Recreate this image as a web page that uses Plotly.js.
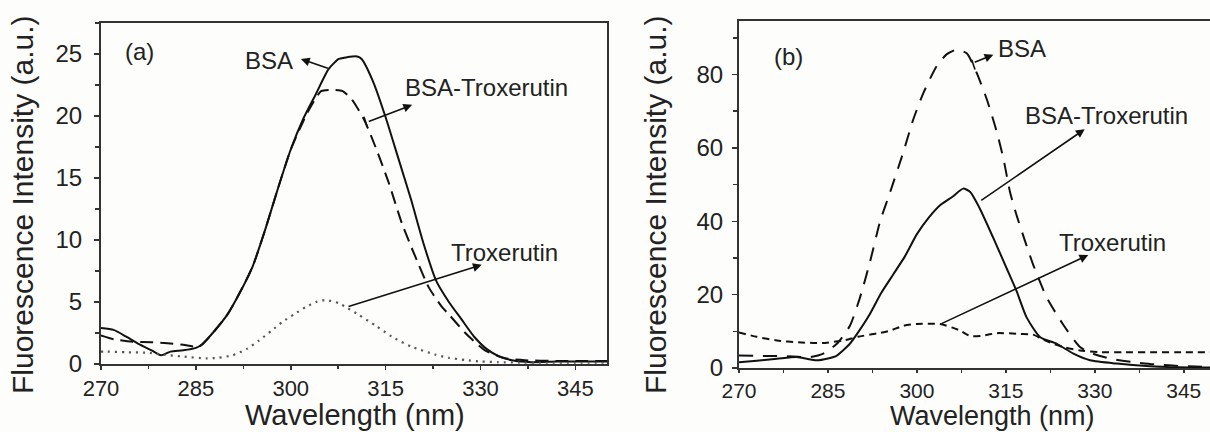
<!DOCTYPE html>
<html>
<head>
<meta charset="utf-8">
<script src="https://cdn.plot.ly/plotly-3.0.1.min.js"></script>
<style>
html,body{margin:0;padding:0;overflow:hidden;background:#fdfdfb;}
#chart{width:1216px;height:432px;}
</style>
</head>
<body>
<div id="chart"></div>
<script>
// ---------- Panel (a) ----------
const aBsaX = [270,272,274,276,278,279.5,281,283,285,286,288,290,292,294,296,298,300,302,304,306,307.6,309,310.5,311.2,313,315,317,319,321,323,325,327,329,331,333,335,338,342,346,350];
const aBsaY = [2.9,2.75,2.2,1.6,1.1,0.7,1.0,1.1,1.3,1.6,2.7,4.0,5.8,7.9,10.9,14.2,17.3,19.8,21.8,23.8,24.6,24.75,24.8,24.6,22.8,19.9,16.6,13.3,9.7,6.7,5.0,3.6,2.2,1.2,0.6,0.3,0.15,0.2,0.2,0.2];

const aMixX = [270,272,275,278,280,283,285.5,288,290,292,294,296,298,300,302,303,304.8,306.6,308.2,309.7,311.6,313.4,315.5,317.6,319.7,321.8,323.9,325,327.6,330.7,333.9,337,342,346,350];
const aMixY = [2.3,2.0,1.8,1.75,1.7,1.55,1.4,2.7,4.0,5.8,7.9,10.9,14.2,17.3,19.6,20.6,22.0,22.1,22.0,21.3,19.7,17.5,14.6,11.3,8.65,6.2,4.6,4.0,2.5,1.1,0.46,0.3,0.25,0.25,0.25];

const aTroX = [270,271,274,277.7,280,283,286.7,288.5,290.8,293,295,297,298.7,300.5,302.4,304,305.5,307.6,309,310.8,313.4,316,319.1,322.9,325,327.6,330,332.8,336,340,345,350];
const aTroY = [1.0,1.0,0.95,0.9,0.75,0.6,0.45,0.5,0.7,1.2,1.9,2.7,3.4,4.0,4.6,5.0,5.16,4.9,4.5,3.95,3.1,2.2,1.4,0.75,0.5,0.32,0.2,0.15,0.12,0.1,0.1,0.1];

// ---------- Panel (b) ----------
const bBsaX = [270,274,278,282,284.2,286.5,288.7,290.4,292.1,293.8,295.5,297.7,299.4,301.1,303.3,305,306.7,308.4,310.1,311.8,313.5,314.6,315.7,316.8,319.6,321.9,324.6,327.5,329.7,333,336.4,340,345,350];
const bBsaY = [3.4,3.3,3.2,3.0,3.9,6.6,11.5,19.2,29,40,48,58.8,67.8,75,82.2,85.5,86.8,85.8,80.4,73.2,64.2,57,48,41.7,28.2,19.2,12,5.7,3.9,2.4,1.6,1.0,0.5,0.3];

const bMixX = [270,273,276.4,279.7,283.1,285,286.5,288.7,290,292,294,296,298,300,302,304,306,307.8,309,310.6,312.9,315.1,316.8,318.5,320.8,323.6,326.4,329.2,333.7,339.3,344,350];
const bMixY = [1.6,2.0,2.5,3.0,2.1,2.6,3.4,6.6,9.5,14.5,20.5,25.5,30.5,36.5,41,44.5,46.7,48.9,48,43.5,35.4,27.3,21,13.8,8.4,6.6,3.9,2.1,1.2,0.5,0.2,0.1];

const bTroX = [270,273,276.4,280,284,287.6,290,293.2,295.5,297.7,300,303.9,306,307.3,309,311,313.5,317.4,319.6,321,323,325,327.5,330.9,335,340,345,350];
const bTroY = [9.7,8.5,7.5,7.0,6.8,7.5,8.5,9.4,10.2,11.5,12,12,11,10.2,8.7,8.8,9.5,9.3,9.1,8,6.6,5.6,4.8,4.3,4.3,4.3,4.3,4.3];

const xTickVals = [270,285,300,315,330,345];
const seriesNames = ['BSA','BSA-Troxerutin','Troxerutin'];

const FONT = 'Liberation Sans, Arial, Helvetica, sans-serif';
const INK = '#111111';

const traces = [
  {x:aBsaX, y:aBsaY, xaxis:'x', yaxis:'y', name:seriesNames[0], mode:'lines', line:{color:INK, width:2, shape:'spline', smoothing:0.6}},
  {x:aMixX, y:aMixY, xaxis:'x', yaxis:'y', name:seriesNames[1], mode:'lines', line:{color:INK, width:2, dash:'13px,7px', shape:'spline', smoothing:0.6}},
  {x:aTroX, y:aTroY, xaxis:'x', yaxis:'y', name:seriesNames[2], mode:'lines', line:{color:'#555', width:2.2, dash:'2px,5px', shape:'spline', smoothing:0.6}},
  {x:bBsaX, y:bBsaY, xaxis:'x2', yaxis:'y2', name:seriesNames[0], mode:'lines', line:{color:INK, width:2, dash:'14px,10px', shape:'spline', smoothing:0.6}},
  {x:bMixX, y:bMixY, xaxis:'x2', yaxis:'y2', name:seriesNames[1], mode:'lines', line:{color:INK, width:2, shape:'spline', smoothing:0.6}},
  {x:bTroX, y:bTroY, xaxis:'x2', yaxis:'y2', name:seriesNames[2], mode:'lines', line:{color:INK, width:2, dash:'7px,5px', shape:'spline', smoothing:0.6}}
];

const W = 1216, H = 432;
function axisBase(){
  return {
    showline:true, linecolor:'#333', linewidth:2, mirror:true,
    ticks:'outside', ticklen:5, tickwidth:1.5, tickcolor:'#333',
    showgrid:false, zeroline:false,
    tickfont:{family:FONT, size:24, color:'#222'},
    fixedrange:true
  };
}
const minorX = {dtick:7.5, tick0:270, ticks:'outside', ticklen:3, tickwidth:1.5, tickcolor:'#333', showgrid:false};
const xa = Object.assign(axisBase(), {domain:[101/W, 607/W], range:[270,350], tickvals:xTickVals, minor:minorX, anchor:'y', ticklen:4, tickfont:{family:FONT, size:22, color:'#222'}});
const ya = Object.assign(axisBase(), {domain:[(H-364)/H, (H-23)/H], range:[0,27.5], dtick:5, tick0:0, minor:{dtick:2.5, ticks:'outside', ticklen:4, tickwidth:1.5, tickcolor:'#333', showgrid:false}, anchor:'x', ticklabelstandoff:7});
const xb = Object.assign(axisBase(), {domain:[739/W, 1213.4/W], range:[270,350], tickvals:xTickVals, minor:minorX, anchor:'y2', ticklen:3, tickfont:{family:FONT, size:21, color:'#222'}});
const yb = Object.assign(axisBase(), {domain:[(H-368)/H, (H-21)/H], range:[0,94.6], dtick:20, tick0:0, minor:{dtick:10, ticks:'outside', ticklen:4, tickwidth:1.5, tickcolor:'#333', showgrid:false}, anchor:'x2', ticklabelstandoff:4});

function txt(xref, yref, x, y, t){
  return {xref:xref, yref:yref, x:x, y:y, text:t, showarrow:false, font:{family:FONT, size:24, color:'#222'}, xanchor:'center', yanchor:'middle'};
}
function arrow(xref, yref, hx, hy, tx, ty){
  return {xref:xref, yref:yref, axref:xref, ayref:yref, x:hx, y:hy, ax:tx, ay:ty, text:'', showarrow:true, arrowhead:2, arrowsize:1.1, arrowwidth:1.6, arrowcolor:INK};
}
function title(x, y, t, rot, size, anchorY){
  return {xref:'paper', yref:'paper', x:x, y:y, text:t, showarrow:false, textangle:rot, font:{family:FONT, size:size, color:'#222'}, xanchor:'center', yanchor:anchorY || 'middle', borderpad:0};
}

const annotations = [
  txt('x','y',276.1,25.2,'(a)'),
  txt('x','y',296.5,24.5,seriesNames[0]),
  txt('x','y',330.9,22.3,seriesNames[1]),
  txt('x','y',333.8,9.0,seriesNames[2]),
  arrow('x','y',301.6,24.6,306.1,23.8),
  arrow('x','y',319.2,20.9,312.1,19.5),
  arrow('x','y',330.2,8.0,308.9,4.6),

  txt('x2','y2',278.3,84.9,'(b)'),
  txt('x2','y2',317.7,87,seriesNames[0]),
  txt('x2','y2',331.9,68.9,seriesNames[1]),
  txt('x2','y2',332.9,34.3,seriesNames[2]),
  arrow('x2','y2',312.9,85.4,309.5,83.2),
  arrow('x2','y2',328.3,65.1,310.6,45.4),
  arrow('x2','y2',328.9,30.8,303.9,11.9),

  title(22/W, (H-205)/H, 'Fluorescence Intensity (a.u.)', -90, 30),
  title(655/W, (H-205)/H, 'Fluorescence Intensity (a.u.)', -90, 30),
  title(355/W, 0, 'Wavelength (nm)', 0, 29, 'bottom'),
  title(992/W, 0, 'Wavelength (nm)', 0, 27, 'bottom')
];

// small tail ticks at the start of two arrows
const shapes = [
  {type:'line', xref:'x', yref:'y', x0:311.57, y0:19.94, x1:312.09, y1:19.14, line:{color:INK, width:1.6}},
  {type:'line', xref:'x2', yref:'y2', x0:309.24, y0:84.05, x1:309.8, y1:81.35, line:{color:INK, width:1.6}}
];

const layout = {
  width:W, height:H,
  margin:{l:0, r:0, t:0, b:0},
  paper_bgcolor:'#fdfdfb', plot_bgcolor:'#fdfdfb',
  showlegend:false,
  font:{family:FONT, color:'#222'},
  xaxis:xa, yaxis:ya, xaxis2:xb, yaxis2:yb,
  annotations:annotations,
  shapes:shapes
};

Plotly.newPlot('chart', traces, layout, {displayModeBar:false, staticPlot:true});
</script>
</body>
</html>
